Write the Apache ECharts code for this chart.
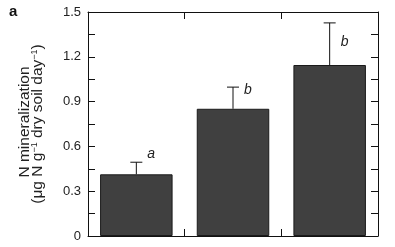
<!DOCTYPE html>
<html><head><meta charset="utf-8">
<script src="https://cdn.jsdelivr.net/npm/echarts@6/dist/echarts.min.js"></script>
<style>html,body{margin:0;padding:0;background:#fff}#c{width:395px;height:247px}</style>
</head><body><div id="c"></div>
<script>
const categories = ['1', '2', '3'];
const means = [0.413, 0.852, 1.145];
const errors = [0.081, 0.145, 0.282];
const letters = ['a', 'b', 'b'];
const letterValues = [0.547, 0.976, 1.30];
const yTicks = [0, 0.3, 0.6, 0.9, 1.2, 1.5];

const chart = echarts.init(document.getElementById('c'), null, {renderer: 'canvas'});
const FONT = 'Liberation Sans, Arial, sans-serif';
const axisLine = {show: true, onZero: false, lineStyle: {color: '#111', width: 1}};
const tick = {show: true, inside: true, length: 7, lineStyle: {color: '#111'}};
const minor = {show: true, splitNumber: 2, length: 7, lineStyle: {color: '#111'}};
chart.setOption({
  animation: false,
  grid: {left: 88, right: 17, top: 12, bottom: 11, containLabel: false},
  xAxis: [
    {type: 'category', data: categories, boundaryGap: true, axisLine, axisTick: tick,
     axisLabel: {show: false}, splitLine: {show: false}},
    {type: 'category', data: categories, position: 'top', boundaryGap: true, axisLine, axisTick: tick,
     axisLabel: {show: false}, splitLine: {show: false}}
  ],
  yAxis: [
    {type: 'value', min: yTicks[0], max: yTicks[yTicks.length - 1], interval: 0.3, axisLine,
     axisTick: tick, minorTick: minor,
     axisLabel: {show: true, margin: 7, color: '#222', fontSize: 13, fontFamily: FONT,
       formatter: v => (Math.round(v * 10) / 10).toString()},
     splitLine: {show: false}},
    {type: 'value', min: yTicks[0], max: yTicks[yTicks.length - 1], interval: 0.3, position: 'right', axisLine,
     axisTick: tick, minorTick: minor,
     axisLabel: {show: false}, splitLine: {show: false}}
  ],
  series: [
    {type: 'bar', data: means, barWidth: '75%', xAxisIndex: 0, yAxisIndex: 0,
     itemStyle: {color: '#404040', borderColor: '#1a1a1a', borderWidth: 1}},
    {type: 'custom', xAxisIndex: 0, yAxisIndex: 0, z: 5,
     data: means.map((m, i) => [i, m, errors[i], letterValues[i]]),
     renderItem: (params, api) => {
       const i = api.value(0);
       const base = api.coord([i, api.value(1)]);
       const top = api.coord([i, api.value(1) + api.value(2)]);
       const lab = api.coord([i, api.value(3)]);
       const half = 6;
       const style = {stroke: '#111', lineWidth: 1};
       return {type: 'group', children: [
         {type: 'line', shape: {x1: base[0], y1: base[1], x2: top[0], y2: top[1]}, style},
         {type: 'line', shape: {x1: base[0] - half, y1: top[1], x2: base[0] + half, y2: top[1]}, style},
         {type: 'text', style: {text: letters[params.dataIndex], x: lab[0] + 11, y: lab[1],
           verticalAlign: 'middle', align: 'left', font: 'italic 14px ' + FONT, fill: '#222'}}
       ]};
     }}
  ],
  graphic: [
    {type: 'text', x: 9, y: 11.5, style: {text: 'a', font: 'bold 15px ' + FONT, fill: '#111', verticalAlign: 'middle'}},
    {type: 'text', x: 24.5, y: 122, rotation: Math.PI / 2,
     style: {text: 'N mineralization', font: '15.5px ' + FONT, fill: '#222', align: 'center', verticalAlign: 'middle'}},
    {type: 'text', x: 38, y: 124, rotation: Math.PI / 2,
     style: {text: '(μg N g{s|−1} dry soil day{s|−1})', font: '15.5px ' + FONT, fill: '#222',
       align: 'center', verticalAlign: 'middle',
       rich: {s: {fontSize: 9, fontFamily: FONT, fill: '#222', padding: [0, 0, 7, 0]}}}}
  ]
});
</script></body></html>
